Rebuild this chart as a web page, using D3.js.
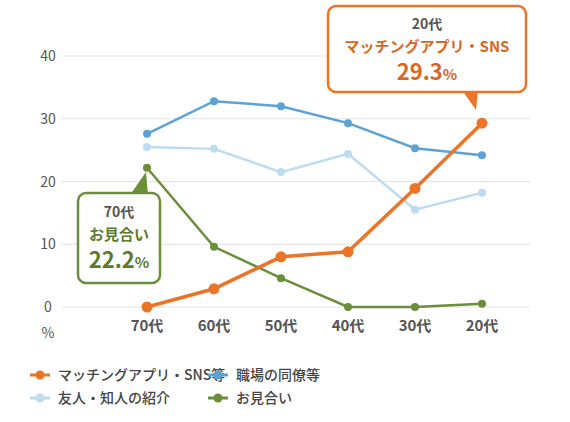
<!DOCTYPE html>
<html lang="ja">
<head>
<meta charset="UTF-8">
<script src="https://d3js.org/d3.v7.min.js"></script>
<style>
  body { margin: 0; background: #fff; }
  text { font-family: "Noto Sans CJK JP", "Noto Sans", sans-serif; }
</style>
</head>
<body>
<svg></svg>
<script>
const categories = ['70代', '60代', '50代', '40代', '30代', '20代'];
const yTicks = [0, 10, 20, 30, 40];
const matching = [0, 2.9, 8.0, 8.8, 18.9, 29.3];
const workplace = [27.6, 32.8, 32.0, 29.3, 25.3, 24.2];
const friends = [25.5, 25.2, 21.5, 24.4, 15.5, 18.2];
const omiai = [22.2, 9.6, 4.6, 0.0, 0.0, 0.5];

const series = [
  { name: 'マッチングアプリ・SNS等', values: matching, color: '#ec7427', width: 3.5 },
  { name: '職場の同僚等', values: workplace, color: '#5ba3d6', width: 2.5 },
  { name: '友人・知人の紹介', values: friends, color: '#bcdcf1', width: 2.5 },
  { name: 'お見合い', values: omiai, color: '#6b8e3a', width: 2.5 }
];

const svg = d3.select('svg').attr('width', 570).attr('height', 422);

const x = d3.scalePoint().domain(categories).range([147, 482]);
const y = d3.scaleLinear().domain([0, 40]).range([307, 56]);

svg.append('g').selectAll('line').data(yTicks).join('line')
  .attr('x1', 62).attr('x2', 530)
  .attr('y1', d => y(d)).attr('y2', d => y(d))
  .attr('stroke', '#e3e3e3').attr('stroke-width', 1);

svg.append('g').selectAll('text').data(yTicks).join('text')
  .attr('x', 48).attr('y', d => y(d) + 5)
  .attr('text-anchor', 'middle').attr('font-size', 14).attr('fill', '#555')
  .text(d => d);
svg.append('text').attr('x', 48).attr('y', 338).attr('text-anchor', 'middle')
  .attr('font-size', 14).attr('fill', '#555').text('%');

svg.append('g').selectAll('text').data(categories).join('text')
  .attr('x', d => x(d)).attr('y', 331)
  .attr('text-anchor', 'middle').attr('font-size', 15).attr('font-weight', 'bold').attr('fill', '#555')
  .text(d => d);

const line = d3.line().x((d, i) => x(categories[i])).y(d => y(d));
const drawOrder = [series[2], series[1], series[3], series[0]];
drawOrder.forEach(s => {
  svg.append('path').datum(s.values).attr('d', line)
    .attr('fill', 'none').attr('stroke', s.color).attr('stroke-width', s.width);
  svg.append('g').selectAll('circle').data(s.values).join('circle')
    .attr('cx', (d, i) => x(categories[i])).attr('cy', d => y(d))
    .attr('r', s === series[0] ? 5.5 : 4).attr('fill', s.color);
});

// callouts
function callout(bx, by, bw, bh, ptr, color, lines) {
  const g = svg.append('g');
  g.append('path').attr('d', ptr).attr('fill', color);
  g.append('rect').attr('x', bx).attr('y', by).attr('width', bw).attr('height', bh)
    .attr('rx', 8).attr('fill', '#fff').attr('stroke', color).attr('stroke-width', 2.5);
  lines.forEach(l => {
    g.append('text').attr('x', bx + bw / 2).attr('y', l.y).attr('text-anchor', 'middle')
      .attr('font-size', l.size).attr('font-weight', 'bold').attr('fill', l.color)
      .html(l.text);
  });
}
callout(328, 6, 198, 86, 'M462,90 L478,90 L476,110 Z', '#ec7427', [
  { y: 29, size: 14, color: '#555', text: '20代' },
  { y: 52, size: 15, color: '#d9681f', text: 'マッチングアプリ・SNS' },
  { y: 80, size: 22, color: '#d9681f', text: '29.3<tspan font-size="15">%</tspan>' }
]);
callout(78, 193, 82, 90, 'M130,195 L148,195 L146,172 Z', '#6b8e3a', [
  { y: 217, size: 14, color: '#555', text: '70代' },
  { y: 240, size: 15, color: '#5c7a2e', text: 'お見合い' },
  { y: 268, size: 22, color: '#5c7a2e', text: '22.2<tspan font-size="15">%</tspan>' }
]);

// legend
const legendPos = [[30, 375], [208, 375], [30, 398], [208, 398]];
series.forEach((s, i) => {
  const [lx, ly] = legendPos[i];
  const g = svg.append('g');
  g.append('line').attr('x1', lx).attr('x2', lx + 20).attr('y1', ly).attr('y2', ly)
    .attr('stroke', s.color).attr('stroke-width', 3);
  g.append('circle').attr('cx', lx + 10).attr('cy', ly).attr('r', 4.5).attr('fill', s.color);
  g.append('text').attr('x', lx + 28).attr('y', ly + 5).attr('font-size', 14)
    .attr('font-weight', 500).attr('fill', '#444').text(s.name);
});
</script>
</body>
</html>
